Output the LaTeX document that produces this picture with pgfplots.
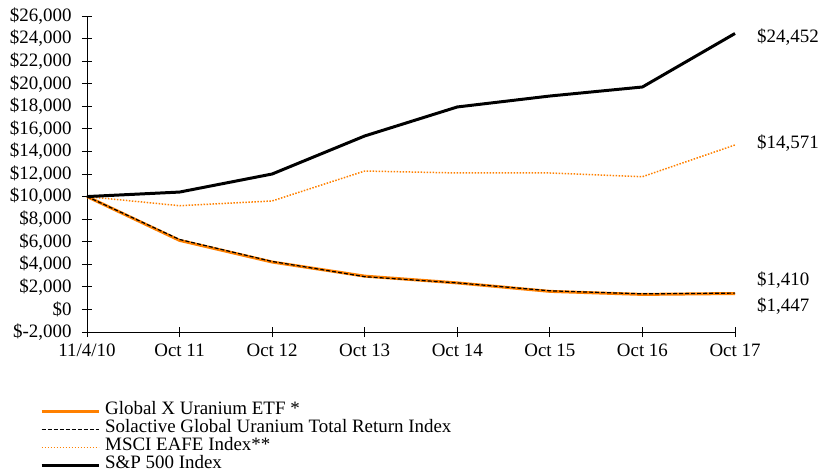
\documentclass[border=0pt]{standalone}
\usepackage{fontspec}
\setmainfont{Liberation Serif}
\usepackage{pgfplots}
\pgfplotsset{compat=1.18}
\definecolor{gxorange}{RGB}{255,128,0}

\begin{document}
\fontsize{19}{19}\selectfont
\begin{tikzpicture}
\useasboundingbox (-87bp,-142bp) rectangle (733bp,332bp);
\begin{axis}[
    at={(0,0)}, anchor=south west,
    scale only axis,
    width=648bp, height=316bp,
    xmin=0, xmax=7,
    ymin=-2000, ymax=26000,
    scaled y ticks=false,
    axis x line*=bottom, axis y line*=left,
    axis line style={black, line width=0.8pt},
    tick style={black, line width=0.8pt},
    tick align=center, major tick length=10bp,
    xtick={0,1,2,3,4,5,6,7},
    xticklabels={11/4/10,Oct 11,Oct 12,Oct 13,Oct 14,Oct 15,Oct 16,Oct 17},
    ytick={-2000,0,2000,4000,6000,8000,10000,12000,14000,16000,18000,20000,22000,24000,26000},
    yticklabels={\$-2{,}000,\$0,\$2{,}000,\$4{,}000,\$6{,}000,\$8{,}000,\$10{,}000,\$12{,}000,\$14{,}000,\$16{,}000,\$18{,}000,\$20{,}000,\$22{,}000,\$24{,}000,\$26{,}000},
    ticklabel style={font=\fontsize{19}{19}\selectfont},
    yticklabel style={xshift=-4bp},
    clip=false,
    legend style={at={(-0.0725,-0.222)}, anchor=north west, draw=none, fill=none,
        inner sep=0pt, row sep=0pt, column sep=5bp,
        nodes={inner sep=0pt, text height=12.5bp, text depth=5.5bp, anchor=west},
        font=\fontsize{19}{19}\selectfont},
    legend cell align=left,
    legend image code/.code={\draw[#1] (0bp,0bp) -- (57bp,0bp);},
]
% Global X Uranium ETF
\addplot[gxorange, line width=3pt] coordinates {
 (0,10000) (1,6118) (2,4200) (3,2950) (4,2350) (5,1600) (6,1330) (7,1410)};
% Solactive Global Uranium Total Return Index
\addplot[black, line width=1.2pt, dash pattern=on 4bp off 2bp] coordinates {
 (0,10000) (1,6200) (2,4250) (3,2900) (4,2350) (5,1650) (6,1380) (7,1447)};
% MSCI EAFE
\addplot[gxorange, line width=1.5pt, dash pattern=on 1.5bp off 1.5bp] coordinates {
 (0,10000) (1,9190) (2,9610) (3,12265) (4,12090) (5,12090) (6,11760) (7,14571)};
% S&P 500
\addplot[black, line width=3pt] coordinates {
 (0,10000) (1,10400) (2,12000) (3,15370) (4,17940) (5,18910) (6,19710) (7,24452)};
\legend{Global X Uranium ETF *,Solactive Global Uranium Total Return Index,MSCI EAFE Index**,S\&P 500 Index}
\node[anchor=west, inner sep=0pt, xshift=22bp] at (axis cs:7,24140) {\$24,452};
\node[anchor=west, inner sep=0pt, xshift=22bp] at (axis cs:7,14747) {\$14,571};
\node[anchor=west, inner sep=0pt, xshift=22bp] at (axis cs:7,2608) {\$1,410};
\node[anchor=west, inner sep=0pt, xshift=22bp] at (axis cs:7,304) {\$1,447};
\end{axis}
\end{tikzpicture}
\end{document}
